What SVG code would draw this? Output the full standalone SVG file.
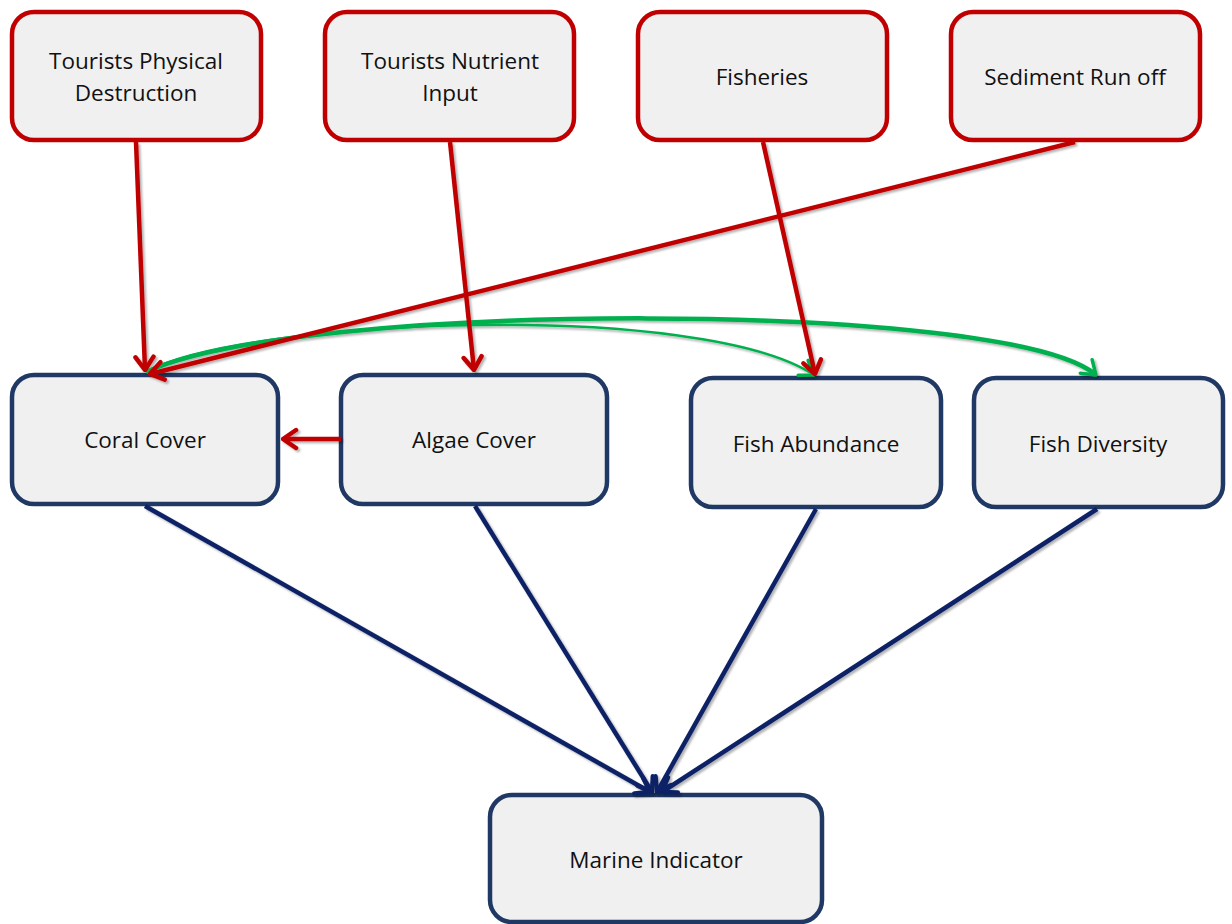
<svg xmlns="http://www.w3.org/2000/svg" width="1232" height="924" viewBox="0 0 1232 924">
<style>
.box rect{fill:#f0f0f0;stroke-width:4.5}
.red rect{stroke:#c00000}
.blue rect{stroke:#1f3864}
text{font-family:"Open Sans","Liberation Sans",sans-serif;font-size:22.5px;fill:#111;text-anchor:middle}
.r{stroke:#c00000;stroke-width:4.5;fill:none}
.b{stroke:#0d2366;stroke-width:4.5;fill:none}
.g{stroke:#00b050;fill:none}
</style>
<defs>
<filter id="sh" x="-10%" y="-10%" width="120%" height="120%">
<feDropShadow dx="2" dy="2" stdDeviation="1.2" flood-color="#000" flood-opacity="0.3"/>
</filter>
<marker id="ar" viewBox="-16 -12 18 24" refX="0" refY="0" markerWidth="18" markerHeight="24" markerUnits="userSpaceOnUse" orient="auto">
<path d="M-13,-9 L0,0 L-13,9" fill="none" stroke="#c00000" stroke-width="4.5" stroke-linecap="round" stroke-linejoin="round"/>
</marker>
<marker id="ab" viewBox="-16 -12 18 24" refX="0" refY="0" markerWidth="18" markerHeight="24" markerUnits="userSpaceOnUse" orient="auto">
<path d="M-13,-9 L0,0 L-13,9" fill="none" stroke="#0d2366" stroke-width="4.5" stroke-linecap="round" stroke-linejoin="round"/>
</marker>
<marker id="ag" viewBox="-16 -12 18 24" refX="0" refY="0" markerWidth="18" markerHeight="24" markerUnits="userSpaceOnUse" orient="auto">
<path d="M-13,-9 L0,0 L-13,9" fill="none" stroke="#00b050" stroke-width="3.5" stroke-linecap="round" stroke-linejoin="round"/>
</marker>
</defs>
<g id="n1" class="box red"><rect x="12" y="12" width="249" height="128" rx="22"/><text x="136" y="69">Tourists Physical</text><text x="136" y="101">Destruction</text></g>
<g id="n2" class="box red"><rect x="325" y="12" width="249" height="128" rx="22"/><text x="450" y="69">Tourists Nutrient</text><text x="450" y="101">Input</text></g>
<g id="n3" class="box red"><rect x="638" y="12" width="249" height="128" rx="22"/><text x="762" y="85">Fisheries</text></g>
<g id="n4" class="box red"><rect x="951" y="12" width="249" height="128" rx="22"/><text x="1075" y="85">Sediment Run off</text></g>
<g id="n5" class="box blue"><rect x="12" y="375" width="266" height="129" rx="22"/><text x="145" y="448">Coral Cover</text></g>
<g id="n6" class="box blue"><rect x="341" y="375" width="266" height="129" rx="22"/><text x="474" y="448">Algae Cover</text></g>
<g id="n7" class="box blue"><rect x="691" y="378" width="250" height="129" rx="22"/><text x="816" y="452">Fish Abundance</text></g>
<g id="n8" class="box blue"><rect x="974" y="378" width="249" height="129" rx="22"/><text x="1098" y="452">Fish Diversity</text></g>
<g id="n9" class="box blue"><rect x="490" y="795" width="332" height="127" rx="22"/><text x="656" y="868">Marine Indicator</text></g>
<g id="connectors" filter="url(#sh)">
<path class="g" stroke-width="2.5" d="M148,371 C250,318 700,300 814,375" marker-end="url(#ag)"/>
<path class="g" stroke-width="4.5" d="M146,372 C300,300 1010,300 1096,375" marker-end="url(#ag)"/>
<path class="r" d="M136,142 L145,370" marker-end="url(#ar)"/>
<path class="r" d="M450,142 L474,370" marker-end="url(#ar)"/>
<path class="r" d="M763,142 L815,374" marker-end="url(#ar)"/>
<path class="r" d="M1075,142 L150,374" marker-end="url(#ar)"/>
<path class="r" d="M341,439 L283,439" marker-end="url(#ar)"/>
<path class="b" d="M145,506 L650,792" marker-end="url(#ab)"/>
<path class="b" d="M475,506 L652,792" marker-end="url(#ab)"/>
<path class="b" d="M816,509 L657,792" marker-end="url(#ab)"/>
<path class="b" d="M1097,509 L662,792" marker-end="url(#ab)"/>
</g>
</svg>
